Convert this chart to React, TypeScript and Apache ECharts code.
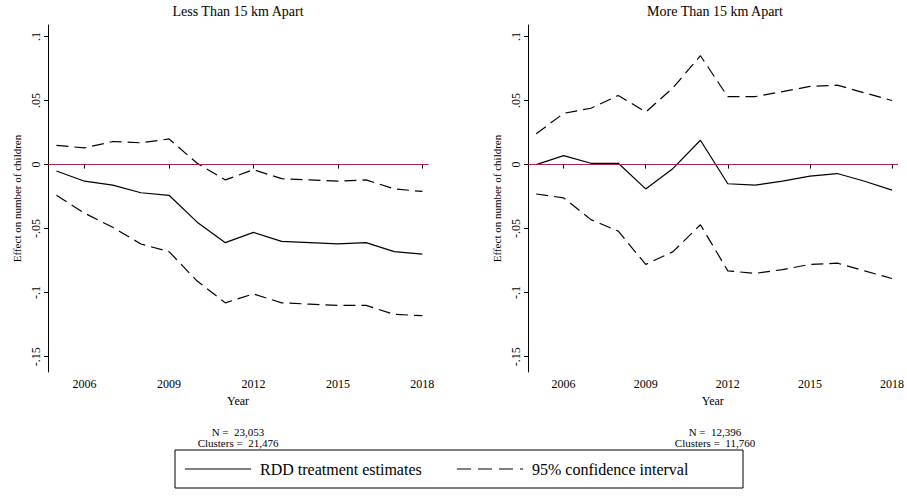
import React, { useEffect, useRef } from "react";
import * as echarts from "echarts";

const years = [2005,2006,2007,2008,2009,2010,2011,2012,2013,2014,2015,2016,2017,2018];
const tickYears = [2006, 2009, 2012, 2015, 2018];
const yTicks = [-0.15, -0.1, -0.05, 0, 0.05, 0.1];
const leftEst = [-0.005,-0.013,-0.016,-0.022,-0.024,-0.045,-0.061,-0.053,-0.060,-0.061,-0.062,-0.061,-0.068,-0.070];
const leftUp = [0.015,0.013,0.018,0.017,0.020,0.001,-0.012,-0.004,-0.011,-0.012,-0.013,-0.012,-0.019,-0.021];
const leftLo = [-0.024,-0.038,-0.049,-0.062,-0.068,-0.091,-0.108,-0.101,-0.108,-0.109,-0.110,-0.110,-0.117,-0.118];
const rightEst = [0,0.007,0.001,0.001,-0.019,-0.003,0.019,-0.015,-0.016,-0.013,-0.009,-0.007,-0.013,-0.020];
const rightUp = [0.024,0.040,0.044,0.054,0.041,0.060,0.085,0.053,0.053,0.057,0.061,0.062,0.056,0.050];
const rightLo = [-0.023,-0.026,-0.043,-0.052,-0.078,-0.068,-0.047,-0.083,-0.085,-0.082,-0.078,-0.077,-0.083,-0.089];
const titles = ["Less Than 15 km Apart", "More Than 15 km Apart"];
const notes = ["N =  23,053\nClusters =  21,476", "N =  12,396\nClusters =  11,760"];
const legendNames = ["RDD treatment estimates", "95% confidence interval"];

const F = "Liberation Serif";

export default function App() {
  const ref = useRef<HTMLDivElement>(null);
  useEffect(() => {
    const chart = echarts.init(ref.current!, null, { renderer: "svg" });
    const grids = [
      { left: 48, top: 25, width: 380, height: 347 },
      { left: 528, top: 25, width: 375, height: 347 },
    ];
    const data = [[leftEst, leftUp, leftLo], [rightEst, rightUp, rightLo]];
    const xAxis: any[] = [], yAxis: any[] = [], series: any[] = [];
    grids.forEach((g, i) => {
      xAxis.push({
        type: "value", gridIndex: i, min: 2004.7, max: 2018.2,
        name: "Year", nameLocation: "middle", nameGap: 19,
        nameTextStyle: { fontFamily: F, fontSize: 12, color: "#000" },
        splitLine: { show: false },
        axisLine: { lineStyle: { color: "#000" } },
        axisTick: { customValues: tickYears, length: 4, lineStyle: { color: "#000" } },
        axisLabel: { customValues: tickYears, fontFamily: F, fontSize: 12, color: "#000", margin: 6, formatter: (v: number) => String(v) },
      });
      yAxis.push({
        type: "value", gridIndex: i, min: -0.162, max: 0.109,
        name: "Effect on number of children", nameLocation: "middle", nameGap: 26,
        nameTextStyle: { fontFamily: F, fontSize: 11, color: "#000" },
        splitLine: { show: false },
        axisLine: { show: true, lineStyle: { color: "#000" } },
        axisTick: { customValues: yTicks, length: 4, lineStyle: { color: "#000" } },
        axisLabel: {
          customValues: yTicks, rotate: 90, fontFamily: F, fontSize: 12, color: "#000", margin: 6,
          formatter: (v: number) => (Math.abs(v) < 1e-9 ? "0" : String(+v.toFixed(2)).replace("0.", ".")),
        },
      });
      const [e, u, l] = data[i];
      const mk = (arr: number[], dashed: boolean, extra: any = {}) => ({
        type: "line", xAxisIndex: i, yAxisIndex: i, symbol: "none",
        data: years.map((y, k) => [y, arr[k]]),
        lineStyle: { color: "#000", width: 1.2, type: dashed ? [12, 6] : "solid" },
        ...extra,
      });
      series.push(mk(e, false, {
        markLine: {
          silent: true, symbol: "none", label: { show: false },
          lineStyle: { color: "#b0204a", type: "solid", width: 1 },
          data: [{ yAxis: 0 }],
        },
      }));
      series.push(mk(u, true));
      series.push(mk(l, true));
    });
    const txt = (x: number, y: number, text: string, size: number, align = "center") => ({
      type: "text", x, y, style: { text, font: `${size}px "${F}"`, fill: "#000", align, verticalAlign: "middle", lineHeight: 11 },
    });
    chart.setOption({
      animation: false,
      backgroundColor: "#fff",
      grid: grids,
      xAxis, yAxis, series,
      graphic: [
        { type: "rect", shape: { x: 175, y: 450, width: 568, height: 38 }, style: { fill: "#fff", stroke: "#000", lineWidth: 1 } },
        txt(238, 11, titles[0], 14),
        txt(715, 11, titles[1], 14),
        txt(238, 437, notes[0], 11),
        txt(715, 437, notes[1], 11),
        { type: "line", shape: { x1: 185, y1: 469, x2: 251, y2: 469 }, style: { stroke: "#000", lineWidth: 1.2 } },
        txt(260, 469, legendNames[0], 16, "left"),
        { type: "line", shape: { x1: 457, y1: 469, x2: 523, y2: 469 }, style: { stroke: "#000", lineWidth: 1.2, lineDash: [14, 7] } },
        txt(532, 469, legendNames[1], 16, "left"),
      ],
    });
    return () => chart.dispose();
  }, []);
  return <div ref={ref} style={{ position: "absolute", left: 0, top: 0, width: 907, height: 498 }} />;
}
